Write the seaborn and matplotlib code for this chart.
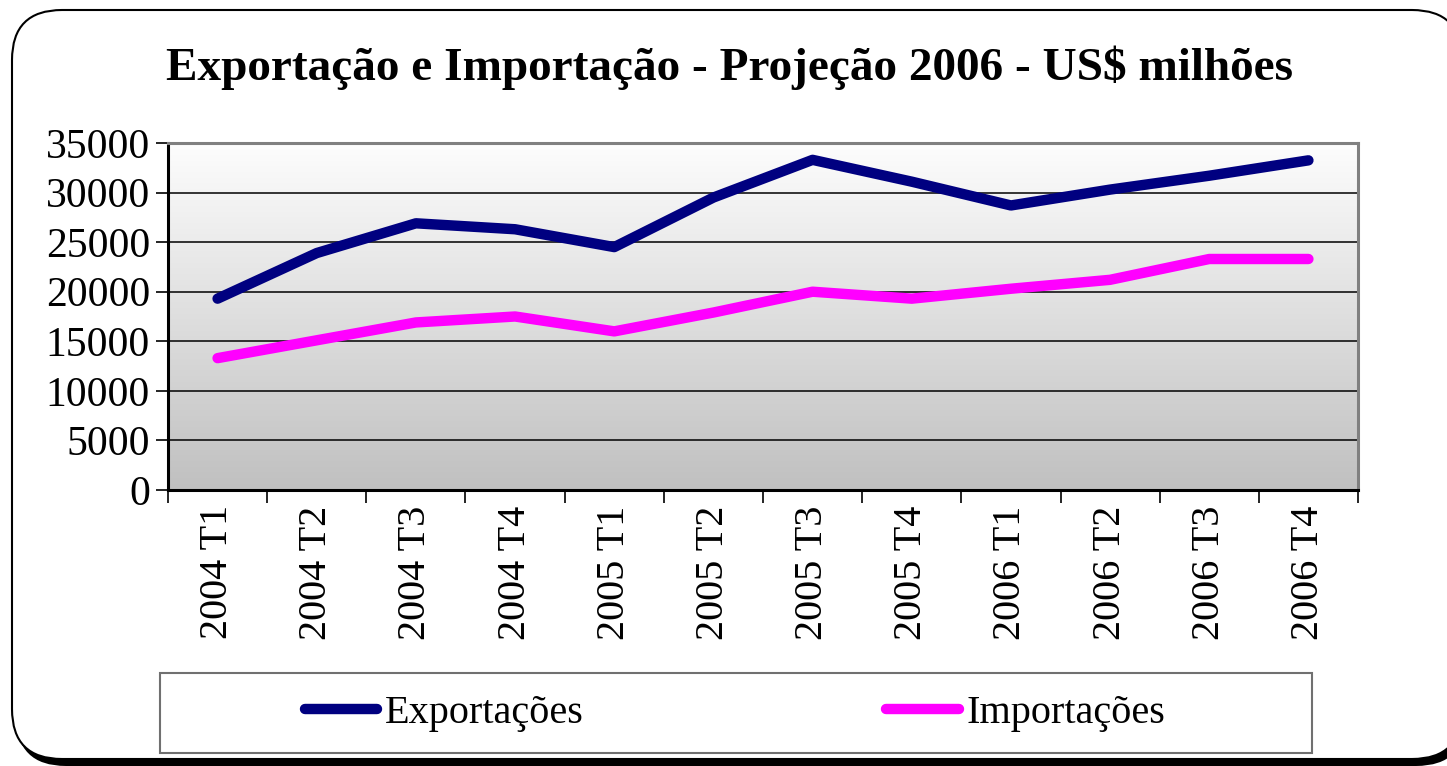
import numpy as np
import pandas as pd
import seaborn as sns
import matplotlib.pyplot as plt
from matplotlib.colors import LinearSegmentedColormap
from matplotlib.lines import Line2D
from matplotlib.patches import FancyBboxPatch, Rectangle
from matplotlib.transforms import IdentityTransform

# data (US$ milhões)
quarters = ['2004 T1', '2004 T2', '2004 T3', '2004 T4',
            '2005 T1', '2005 T2', '2005 T3', '2005 T4',
            '2006 T1', '2006 T2', '2006 T3', '2006 T4']
exportacoes = [19300, 23900, 26900, 26300, 24500, 29500,
               33300, 31100, 28700, 30300, 31700, 33250]
importacoes = [13300, 15100, 16900, 17500, 16000, 17900,
               20000, 19300, 20300, 21200, 23300, 23300]
series_names = ['Exportações', 'Importações']
series_colors = ['#000080', '#FF00FF']
y_ticks = [0, 5000, 10000, 15000, 20000, 25000, 30000, 35000]

sns.set_style('white')
plt.rcParams['font.family'] = ['Liberation Serif', 'DejaVu Serif']
plt.rcParams['text.color'] = 'black'
plt.rcParams['xtick.color'] = 'black'
plt.rcParams['ytick.color'] = 'black'

W, H = 1447, 766
fig = plt.figure(figsize=(W / 100, H / 100), dpi=100)
fig.patch.set_facecolor('white')

# rounded outer frame with shadow (pixel coords)
shadow = FancyBboxPatch((16, 0), 1450, 751, boxstyle='round,pad=0,rounding_size=50',
                        transform=IdentityTransform(), facecolor='black', edgecolor='none', zorder=0)
frame = FancyBboxPatch((12, 7), 1450, 749, boxstyle='round,pad=0,rounding_size=50',
                       transform=IdentityTransform(), facecolor='white', edgecolor='black',
                       linewidth=1.5, zorder=1)
fig.patches.extend([shadow, frame])

ax = fig.add_axes([168 / W, 1 - 490 / H, (1358 - 168) / W, (490 - 143) / H])
ax.set_zorder(2)

df = pd.DataFrame({
    'pos': list(range(len(quarters))) * 2,
    'valor': exportacoes + importacoes,
    'serie': [series_names[0]] * len(quarters) + [series_names[1]] * len(quarters),
})
palette = dict(zip(series_names, series_colors))

# gradient background
grad = LinearSegmentedColormap.from_list('bg', ['#c0c0c0', '#fdfdfd'])
ax.imshow(np.linspace(0, 1, 256).reshape(-1, 1), cmap=grad, aspect='auto',
          extent=(-0.5, len(quarters) - 0.5, 0, 35000), origin='lower', zorder=0)

for yv in y_ticks[1:-1]:
    ax.axhline(yv, color='black', linewidth=1.1, zorder=1)

sns.lineplot(data=df, x='pos', y='valor', hue='serie', palette=palette, ax=ax,
             linewidth=7.5, legend=False, zorder=3, solid_capstyle='round')

ax.set_xlim(-0.5, len(quarters) - 0.5)
ax.set_ylim(0, 35000)
ax.set_xlabel('')
ax.set_ylabel('')

ax.set_yticks(y_ticks)
ax.set_yticklabels([str(v) for v in y_ticks], fontsize=30)
ax.tick_params(axis='y', direction='out', length=9, width=1.2, pad=4, left=True)

ax.set_xticks(np.arange(-0.5, len(quarters)), labels=[])
ax.set_xticks(range(len(quarters)), labels=quarters, minor=True)
ax.tick_params(axis='x', which='major', direction='out', length=9, width=1.2, bottom=True)
ax.tick_params(axis='x', which='minor', length=0, pad=11, labelsize=29, labelrotation=90)

for side in ['left', 'bottom']:
    ax.spines[side].set_color('black')
    ax.spines[side].set_linewidth(2.2)
for side in ['top', 'right']:
    ax.spines[side].set_color('#808080')
    ax.spines[side].set_linewidth(2.2)

fig.text(729 / W, 1 - 80 / H, 'Exportação e Importação - Projeção 2006 - US$ milhões',
         ha='center', va='baseline', fontsize=34, fontweight='bold', color='black', zorder=5)

# legend box
box = Rectangle((160, H - 753), 1152, 80, transform=IdentityTransform(),
                facecolor='white', edgecolor='#707070', linewidth=1.5, zorder=2)
fig.patches.append(box)
handles = [Line2D([], [], color=c, linewidth=7.5, solid_capstyle='round') for c in series_colors]
fig.legend(handles, series_names, loc='center', bbox_to_anchor=(735 / W, 1 - 713 / H),
           ncol=2, frameon=False, fontsize=29, handlelength=1.8, handletextpad=0.2,
           columnspacing=7.5)

fig.savefig('out.png', dpi=100)
